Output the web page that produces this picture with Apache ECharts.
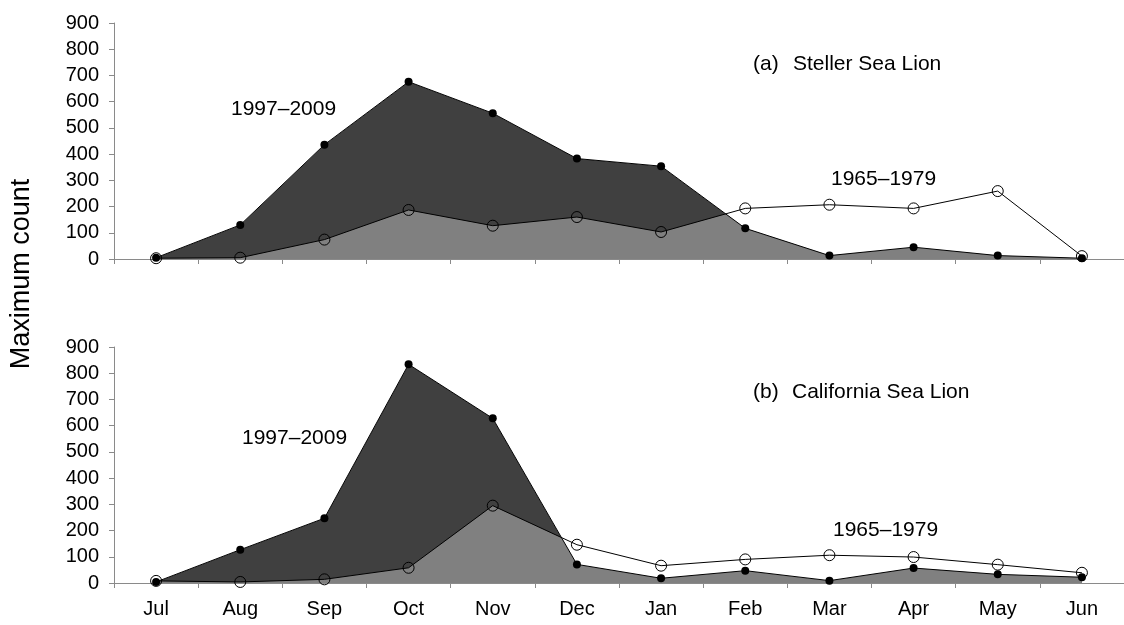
<!DOCTYPE html>
<html>
<head>
<meta charset="utf-8">
<script src="https://cdn.jsdelivr.net/npm/echarts@6/dist/echarts.min.js"></script>
<style>html,body{margin:0;padding:0;background:#fff;}#c{width:1124px;height:625px;}</style>
</head>
<body>
<div id="c"></div>
<script>
const months = ['Jul','Aug','Sep','Oct','Nov','Dec','Jan','Feb','Mar','Apr','May','Jun'];
const yTicks = [0,100,200,300,400,500,600,700,800,900];
// (a) Steller Sea Lion
const stellerRecent = [5,130,436,676,556,383,354,117,13,45,13,3];   // 1997–2009
const stellerEarly  = [3,5,74,187,127,160,103,193,207,193,259,11];  // 1965–1979
// (b) California Sea Lion
const califRecent = [4,127,247,834,628,71,18,47,9,57,33,22];        // 1997–2009
const califEarly  = [8,4,14,58,295,146,66,90,106,99,70,39];         // 1965–1979

const FONT = 'Liberation Sans, Arial, Helvetica, sans-serif';
const axisGrey = '#8a8a8a';

function xAxis(gi, showLabel){
  return {
    type:'category', gridIndex:gi, data:months, boundaryGap:true,
    axisLine:{show:true, lineStyle:{color:axisGrey, width:1}},
    axisTick:{show:true, length:5, lineStyle:{color:axisGrey}},
    axisLabel:{show:showLabel, color:'#000', fontSize:20, fontFamily:FONT, margin:16},
    splitLine:{show:false}
  };
}
function yAxis(gi){
  return {
    type:'value', gridIndex:gi, min:yTicks[0], max:yTicks[yTicks.length-1], interval:100,
    axisLine:{show:true, lineStyle:{color:axisGrey, width:1}},
    axisTick:{show:true, length:5, lineStyle:{color:axisGrey}},
    axisLabel:{color:'#000', fontSize:20, fontFamily:FONT, margin:15},
    splitLine:{show:false}
  };
}
function panelSeries(gi, recent, early){
  const base = {type:'line', xAxisIndex:gi, yAxisIndex:gi, silent:true, animation:false};
  return [
    Object.assign({}, base, {data:recent, symbol:'none', lineStyle:{opacity:0}, areaStyle:{color:'#404040', opacity:1}, z:1}),
    Object.assign({}, base, {data:early, symbol:'none', lineStyle:{opacity:0}, areaStyle:{color:'#808080', opacity:1}, z:2}),
    Object.assign({}, base, {data:recent, symbol:'none', lineStyle:{opacity:0}, areaStyle:{color:'#ffffff', opacity:1, origin:'end'}, z:3}),
    Object.assign({}, base, {data:early, symbol:'circle', symbolSize:11, showSymbol:true,
      lineStyle:{color:'#000', width:1}, itemStyle:{color:'rgba(0,0,0,0)', borderColor:'#000', borderWidth:1}, z:4}),
    Object.assign({}, base, {data:recent, symbol:'circle', symbolSize:8, showSymbol:true,
      lineStyle:{color:'#000', width:1}, itemStyle:{color:'#000'}, z:5})
  ];
}

const chart = echarts.init(document.getElementById('c'), null, {renderer:'canvas'});
const F21 = '21px ' + FONT;
chart.setOption({
  animation:false,
  backgroundColor:'#fff',
  grid:[
    {left:114, width:1023, top:23, height:236},
    {left:114, width:1023, top:347, height:236}
  ],
  xAxis:[xAxis(0,false), xAxis(1,true)],
  yAxis:[yAxis(0), yAxis(1)],
  series:[].concat(panelSeries(0, stellerRecent, stellerEarly), panelSeries(1, califRecent, califEarly)),
  graphic:[
    {type:'text', x:22, y:274, rotation:Math.PI/2, z:100,
     style:{text:'Maximum count', fill:'#000', font:'27px '+FONT, align:'center', verticalAlign:'middle'}},
    {type:'text', x:753, y:64, z:100, style:{text:'(a)', fill:'#000', font:F21, verticalAlign:'middle'}},
    {type:'text', x:793, y:64, z:100, style:{text:'Steller Sea Lion', fill:'#000', font:F21, verticalAlign:'middle'}},
    {type:'text', x:231, y:109, z:100, style:{text:'1997–2009', fill:'#000', font:F21, verticalAlign:'middle'}},
    {type:'text', x:831, y:179, z:100, style:{text:'1965–1979', fill:'#000', font:F21, verticalAlign:'middle'}},
    {type:'text', x:753, y:392, z:100, style:{text:'(b)', fill:'#000', font:F21, verticalAlign:'middle'}},
    {type:'text', x:792, y:392, z:100, style:{text:'California Sea Lion', fill:'#000', font:F21, verticalAlign:'middle'}},
    {type:'text', x:242, y:438, z:100, style:{text:'1997–2009', fill:'#000', font:F21, verticalAlign:'middle'}},
    {type:'text', x:833, y:530, z:100, style:{text:'1965–1979', fill:'#000', font:F21, verticalAlign:'middle'}}
  ]
});
</script>
</body>
</html>
